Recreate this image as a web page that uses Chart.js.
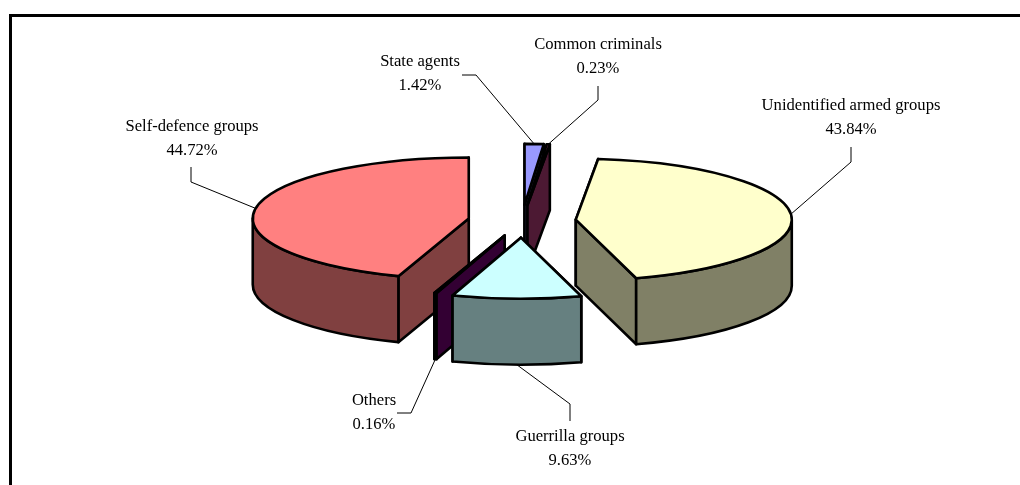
<!DOCTYPE html>
<html>
<head>
<meta charset="utf-8">
<title>Exploded pie</title>
<script src="https://cdn.jsdelivr.net/npm/chart.js@4"></script>
<style>
  html, body { margin: 0; padding: 0; background: #fff; overflow: hidden; }
  #frame { position: absolute; left: 9px; top: 14px; width: 1100px; height: 600px; border: 3px solid #000; }
  #chart { position: absolute; left: 0; top: 0; }
</style>
</head>
<body>
<div id="frame"></div>
<canvas id="chart" width="1020" height="485"></canvas>
<script>
// Data, clockwise from 12 o'clock
const categories = ['State agents', 'Common criminals', 'Unidentified armed groups', 'Guerrilla groups', 'Others', 'Self-defence groups'];
const shares = [1.42, 0.23, 43.84, 9.63, 0.16, 44.72];

// Slice styling
const topColors = ['#9999FF', '#993366', '#FFFFCC', '#CCFFFF', '#660066', '#FF8080'];
const wallColors = ['#4C4C80', '#4C1933', '#808066', '#668080', '#330033', '#804040'];
const explode = [57, 57, 54, 59, 54, 54];
const drawOrder = [0, 1, 5, 2, 4, 3];

// Label text centre and the first two points of each leader line
const labelCenters = [[420, 62], [598, 45], [851, 106], [570, 437], [374, 401], [192, 127]];
const leaderStarts = [[[462, 75], [476, 75]], [[598, 86], [598, 100]], [[851, 147], [851, 162]], [[570, 421], [570, 404]], [[397, 413], [411, 413]], [[191, 167], [191, 182]]];

// Fake 3D geometry
const PIE_X = 522;
const PIE_Y = 221;
const RADIUS = 216;
const TILT = 61 / 216;
const DEPTH = 66;

function sliceCenter(arc, i) {
  const mid = (arc.startAngle + arc.endAngle) / 2;
  return {
    x: PIE_X + Math.cos(mid) * explode[i],
    y: PIE_Y + Math.sin(mid) * explode[i] * TILT
  };
}

function rimPoint(c, r, angle) {
  return { x: c.x + r * Math.cos(angle), y: c.y + r * TILT * Math.sin(angle) };
}

function drawRadialWall(ctx, c, r, angle, color) {
  const p = rimPoint(c, r, angle);
  ctx.beginPath();
  ctx.moveTo(c.x, c.y);
  ctx.lineTo(p.x, p.y);
  ctx.lineTo(p.x, p.y + DEPTH);
  ctx.lineTo(c.x, c.y + DEPTH);
  ctx.closePath();
  ctx.fillStyle = color;
  ctx.fill();
  ctx.stroke();
}

function drawRimWall(ctx, c, r, start, end, color) {
  // only the part of the rim facing the viewer
  const a0 = Math.max(start, 0);
  const a1 = Math.min(end, Math.PI);
  if (a1 <= a0) return;
  ctx.beginPath();
  ctx.ellipse(c.x, c.y, r, r * TILT, 0, a0, a1);
  ctx.ellipse(c.x, c.y + DEPTH, r, r * TILT, 0, a1, a0, true);
  ctx.closePath();
  ctx.fillStyle = color;
  ctx.fill();
  ctx.stroke();
}

function drawSlice(ctx, arc, i) {
  const c = sliceCenter(arc, i);
  const r = arc.outerRadius;
  const start = arc.startAngle;
  const end = arc.endAngle;

  ctx.strokeStyle = '#000';
  ctx.lineWidth = 2.6;
  ctx.lineJoin = 'round';

  // radial walls, the one further back first
  [start, end]
    .sort((a, b) => Math.sin(a) - Math.sin(b))
    .forEach(a => drawRadialWall(ctx, c, r, a, wallColors[i]));
  drawRimWall(ctx, c, r, start, end, wallColors[i]);

  // the top face is the library's own arc, squashed into an ellipse
  ctx.save();
  ctx.translate(c.x, c.y);
  ctx.scale(1, TILT);
  ctx.translate(-arc.x, -arc.y);
  arc.draw(ctx);
  ctx.restore();

  ctx.beginPath();
  ctx.moveTo(c.x, c.y);
  ctx.ellipse(c.x, c.y, r, r * TILT, 0, start, end);
  ctx.closePath();
  ctx.stroke();
}

function drawLabel(ctx, arc, i) {
  const c = sliceCenter(arc, i);
  const mid = (arc.startAngle + arc.endAngle) / 2;
  const tip = rimPoint(c, arc.outerRadius, mid);
  if (Math.sin(mid) > 0) tip.y += DEPTH;

  const [a, b] = leaderStarts[i];
  ctx.strokeStyle = '#000';
  ctx.lineWidth = 1;
  ctx.beginPath();
  ctx.moveTo(a[0], a[1]);
  ctx.lineTo(b[0], b[1]);
  ctx.lineTo(tip.x, tip.y);
  ctx.stroke();

  const [x, y] = labelCenters[i];
  ctx.fillStyle = '#000';
  ctx.font = '16.6px "Liberation Serif"';
  ctx.textAlign = 'center';
  ctx.textBaseline = 'middle';
  ctx.fillText(categories[i], x, y);
  ctx.fillText(shares[i].toFixed(2) + '%', x, y + 24);
}

const pie3d = {
  id: 'pie3d',
  beforeDatasetsDraw(chart) {
    const arcs = chart.getDatasetMeta(0).data;
    drawOrder.forEach(i => drawSlice(chart.ctx, arcs[i], i));
    return false;
  },
  afterDraw(chart) {
    const arcs = chart.getDatasetMeta(0).data;
    arcs.forEach((arc, i) => drawLabel(chart.ctx, arc, i));
  }
};

new Chart(document.getElementById('chart').getContext('2d'), {
  type: 'pie',
  data: {
    labels: categories,
    datasets: [{
      data: shares,
      backgroundColor: topColors,
      borderWidth: 0
    }]
  },
  options: {
    responsive: false,
    animation: false,
    radius: RADIUS,
    plugins: {
      legend: { display: false },
      tooltip: { enabled: false }
    }
  },
  plugins: [pie3d]
});
</script>
</body>
</html>
